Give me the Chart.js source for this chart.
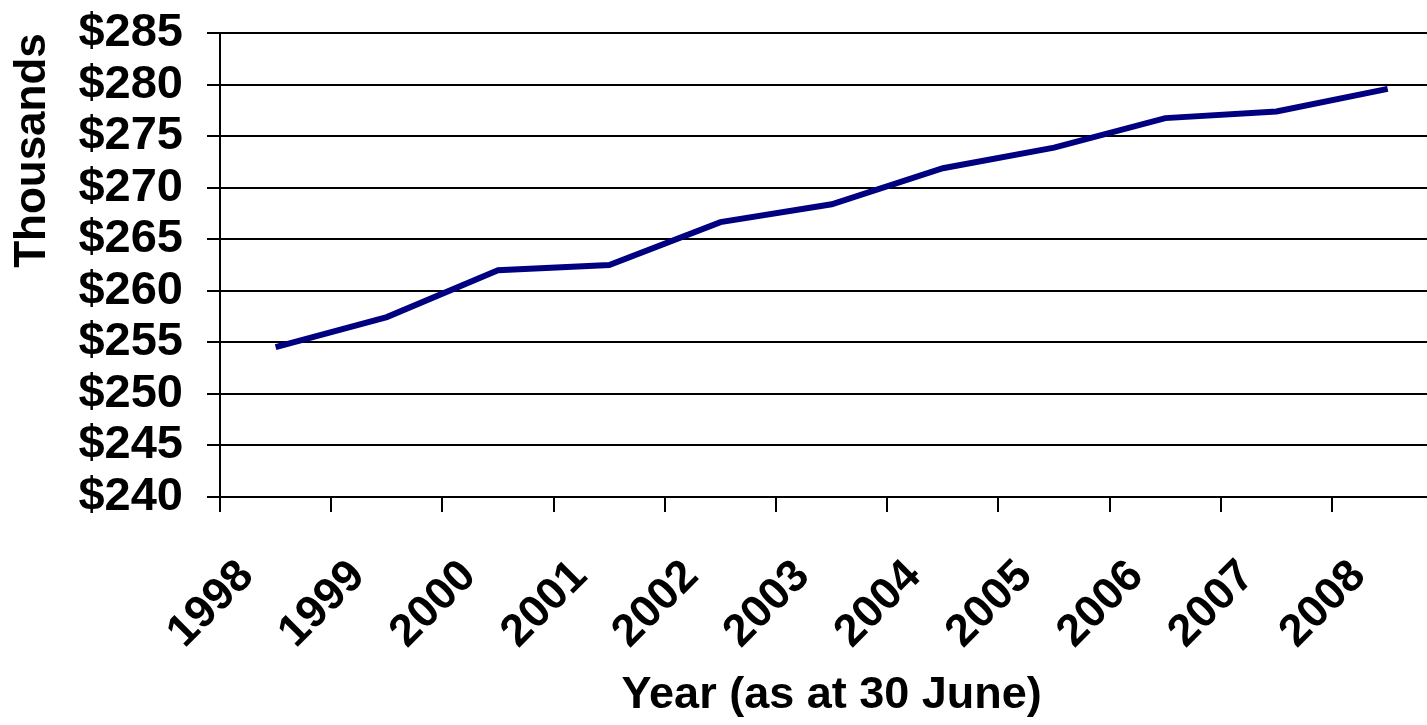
<!DOCTYPE html>
<html>
<head>
<meta charset="utf-8">
<script src="https://cdn.jsdelivr.net/npm/chart.js@4"></script>
<style>
  html, body { margin: 0; padding: 0; background: #fff; overflow: hidden; }
  #wrap { width: 1464px; height: 744px; margin-top: -19px; }
</style>
</head>
<body>
<div id="wrap"><canvas id="chart-valor"></canvas></div>
<script>
const years = ['1998', '1999', '2000', '2001', '2002', '2003', '2004', '2005', '2006', '2007', '2008'];
const valores = [254.55, 257.46, 262.0, 262.5, 266.67, 268.4, 271.9, 273.9, 276.76, 277.4, 279.6];
const yTicks = [240, 245, 250, 255, 260, 265, 270, 275, 280, 285];

const fuente = "'Liberation Sans', Arial, sans-serif";

new Chart(document.getElementById('chart-valor'), {
    type: 'line',
    data: {
        labels: years,
        datasets: [{
            data: valores,
            borderColor: '#000080',
            borderWidth: 6,
            pointRadius: 0,
            tension: 0,
            fill: false
        }]
    },
    options: {
        responsive: true,
        maintainAspectRatio: false,
        animation: false,
        layout: { padding: { top: 6, right: 2, left: 0, bottom: 0 } },
        plugins: { legend: { display: false }, tooltip: { enabled: false } },
        scales: {
            x: {
                offset: true,
                grid: { offset: true, drawOnChartArea: false, drawTicks: true, tickLength: 15, color: '#000', lineWidth: 2 },
                border: { color: '#000', width: 2 },
                ticks: {
                    autoSkip: false, minRotation: 45, maxRotation: 45,
                    padding: 38, labelOffset: -29,
                    color: '#000', font: { family: fuente, size: 45, weight: 'bold' }
                },
                title: {
                    display: true, text: 'Year (as at 30 June)', color: '#000',
                    padding: { top: 0, bottom: 2 },
                    font: { family: fuente, size: 45, weight: 'bold' }
                },
                afterFit: s => { s.height = 228; }
            },
            y: {
                min: yTicks[0], max: yTicks[yTicks.length - 1],
                grid: { color: '#000', lineWidth: 2, tickLength: 13 },
                border: { color: '#000', width: 2 },
                ticks: {
                    autoSkip: false, padding: 24, color: '#000',
                    font: { family: fuente, size: 47, weight: 'bold' },
                    callback: v => '$' + v
                },
                afterBuildTicks: s => { s.ticks = yTicks.map(v => ({ value: v })); },
                title: {
                    display: true, text: 'Thousands', align: 'end', color: '#000',
                    padding: { top: 6, bottom: 0 },
                    font: { family: fuente, size: 44, weight: 'bold' }
                },
                afterFit: s => { s.width = 220; }
            }
        }
    }
});
</script>
</body>
</html>
